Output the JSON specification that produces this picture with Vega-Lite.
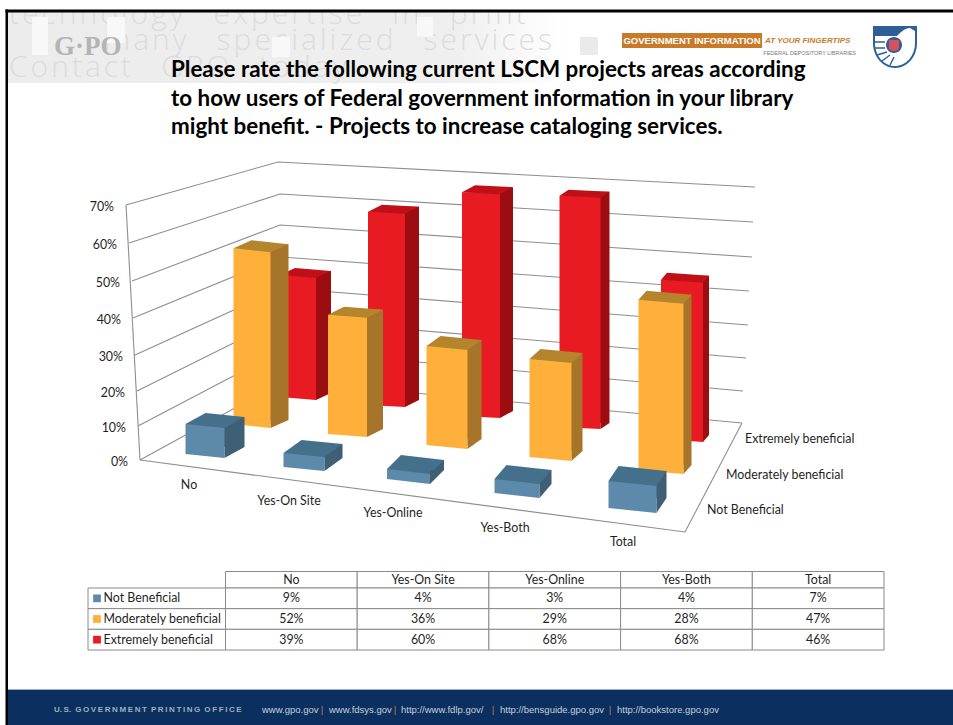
{"$schema":"https://vega.github.io/schema/vega-lite/v6.json","width":953,"height":725,"padding":0,"autosize":{"type":"none"},"background":"#ffffff","config":{"view":{"stroke":null},"font":"Lato"},
"datasets":{"rows":[
{"cat":"No","series":"Not Beneficial","value":0.09},{"cat":"Yes-On Site","series":"Not Beneficial","value":0.04},{"cat":"Yes-Online","series":"Not Beneficial","value":0.03},{"cat":"Yes-Both","series":"Not Beneficial","value":0.04},{"cat":"Total","series":"Not Beneficial","value":0.07},
{"cat":"No","series":"Moderately beneficial","value":0.52},{"cat":"Yes-On Site","series":"Moderately beneficial","value":0.36},{"cat":"Yes-Online","series":"Moderately beneficial","value":0.29},{"cat":"Yes-Both","series":"Moderately beneficial","value":0.28},{"cat":"Total","series":"Moderately beneficial","value":0.47},
{"cat":"No","series":"Extremely beneficial","value":0.39},{"cat":"Yes-On Site","series":"Extremely beneficial","value":0.60},{"cat":"Yes-Online","series":"Extremely beneficial","value":0.68},{"cat":"Yes-Both","series":"Extremely beneficial","value":0.68},{"cat":"Total","series":"Extremely beneficial","value":0.46}],
"walls":[
{"line":"g70","node":"left","tick":"70%","along":0.94,"rise":70.05},{"line":"g70","node":"corner","along":24.69,"rise":81.87},{"line":"g70","node":"right","along":99.22,"rise":75},
{"line":"g60","node":"left","tick":"60%","along":1.41,"rise":59.62},{"line":"g60","node":"corner","along":25,"rise":73.08},{"line":"g60","node":"right","along":98.91,"rise":65.38},
{"line":"g50","node":"left","tick":"50%","along":1.88,"rise":49.18},{"line":"g50","node":"corner","along":25,"rise":64.56},{"line":"g50","node":"right","along":98.75,"rise":55.77},
{"line":"g40","node":"left","tick":"40%","along":2.03,"rise":39.01},{"line":"g40","node":"corner","along":25.16,"rise":55.77},{"line":"g40","node":"right","along":98.28,"rise":46.43},
{"line":"g30","node":"left","tick":"30%","along":2.34,"rise":28.85},{"line":"g30","node":"corner","along":25.31,"rise":47.25},{"line":"g30","node":"right","along":98.13,"rise":37.09},
{"line":"g20","node":"left","tick":"20%","along":2.66,"rise":18.96},{"line":"g20","node":"corner","along":25.31,"rise":38.74},{"line":"g20","node":"right","along":97.81,"rise":28.02},
{"line":"g10","node":"left","tick":"10%","along":2.81,"rise":9.34},{"line":"g10","node":"corner","along":25.47,"rise":30.22},{"line":"g10","node":"right","along":97.34,"rise":18.96},
{"line":"g00","node":"left","tick":"0%","along":3.13,"rise":0},{"line":"g00","node":"corner","along":25.63,"rise":21.7},{"line":"g00","node":"right","along":97.19,"rise":10.16},
{"line":"floor","node":"a","along":3.13,"rise":0},{"line":"floor","node":"b","along":88.28,"rise":-19.78},{"line":"floor","node":"c","along":97.19,"rise":10.16},
{"line":"axis","node":"a","along":0.94,"rise":70.05},{"line":"axis","node":"b","along":3.13,"rise":0}],
"heading":[{"line":1,"text":"Please rate the following current LSCM projects areas according"},{"line":2,"text":"to how users of Federal government information in your library"},{"line":3,"text":"might benefit. - Projects to increase cataloging services."}],
"one":[{"k":1}]},
"data":{"name":"rows"},
"resolve":{"scale":{"x":"independent","y":"independent","color":"independent"}},
"layer":[
{"data":{"name":"one"},"mark":{"type":"rect","fill":{"gradient":"linear","x1":0,"x2":1,"y1":0,"y2":0,"stops":[{"offset":0,"color":"#ececec"},{"offset":0.8,"color":"#efefef"},{"offset":1,"color":"#ffffff"}]}},"encoding":{"x":{"value":8},"x2":{"value":565},"y":{"value":10},"y2":{"value":83}}},
{"data":{"name":"one"},"mark":{"type":"text","text":"t\u200ae\u200ac\u200ah\u200an\u200ao\u200al\u200ao\u200ag\u200ay\u2003e\u200ax\u200ap\u200ae\u200ar\u200at\u200ai\u200as\u200ae\u2003i\u200an\u2003p\u200ar\u200ai\u200an\u200at","align":"left","baseline":"middle","fontSize":30,"font":"Open Sans","fontWeight":300,"color":"#dcdcdc"},"encoding":{"x":{"value":9},"y":{"value":15}}},
{"data":{"name":"one"},"mark":{"type":"text","text":"m\u200aa\u200an\u200ay\u2003s\u200ap\u200ae\u200ac\u200ai\u200aa\u200al\u200ai\u200az\u200ae\u200ad\u2003s\u200ae\u200ar\u200av\u200ai\u200ac\u200ae\u200as","align":"right","baseline":"middle","fontSize":30,"font":"Open Sans","fontWeight":300,"color":"#dcdcdc"},"encoding":{"x":{"value":552},"y":{"value":41}}},
{"data":{"name":"one"},"mark":{"type":"text","text":"C\u200ao\u200an\u200at\u200aa\u200ac\u200at\u2003G\u200aP\u200aO\u2003t\u200ao\u200ad\u200aa\u200ay","align":"left","baseline":"middle","fontSize":30,"font":"Open Sans","fontWeight":300,"color":"#dcdcdc"},"encoding":{"x":{"value":9},"y":{"value":68}}},
{"data":{"name":"one"},"mark":{"type":"rect","fill":"#f8f8f8"},"encoding":{"x":{"value":32},"x2":{"value":48},"y":{"value":17},"y2":{"value":55}}},
{"data":{"name":"one"},"mark":{"type":"rect","fill":"#f8f8f8"},"encoding":{"x":{"value":107},"x2":{"value":125},"y":{"value":17},"y2":{"value":43}}},
{"data":{"name":"one"},"mark":{"type":"rect","fill":"#f8f8f8"},"encoding":{"x":{"value":272},"x2":{"value":290},"y":{"value":37},"y2":{"value":57}}},
{"data":{"name":"one"},"mark":{"type":"rect","fill":"#f8f8f8"},"encoding":{"x":{"value":417},"x2":{"value":433},"y":{"value":17},"y2":{"value":37}}},
{"data":{"name":"one"},"mark":{"type":"rect","fill":"#eaeaea"},"encoding":{"x":{"value":580},"x2":{"value":598},"y":{"value":37},"y2":{"value":55}}},
{"data":{"name":"one"},"mark":{"type":"rect","fill":"#ffffff"},"encoding":{"x":{"value":0},"x2":{"value":953},"y":{"value":0},"y2":{"value":10}}},
{"data":{"name":"one"},"mark":{"type":"rect","fill":"#000000"},"encoding":{"x":{"value":5.5},"x2":{"value":953},"y":{"value":9.5},"y2":{"value":12.5}}},
{"data":{"name":"one"},"mark":{"type":"rect","fill":"#000000"},"encoding":{"x":{"value":5.5},"x2":{"value":8},"y":{"value":9.5},"y2":{"value":725}}},
{"data":{"name":"one"},"mark":{"type":"text","text":"G·PO","align":"left","baseline":"middle","font":"Liberation Serif","fontWeight":"bold","fontSize":27,"color":"#b4b4b4"},"encoding":{"x":{"value":54},"y":{"value":47}}},
{"data":{"name":"one"},"mark":{"type":"rect","fill":"#c87a28"},"encoding":{"x":{"value":622},"x2":{"value":762},"y":{"value":33},"y2":{"value":48}}},
{"data":{"name":"one"},"mark":{"type":"text","text":"GOVERNMENT INFORMATION","align":"center","baseline":"middle","fontWeight":"bold","fontSize":9.5,"font":"Liberation Sans","color":"#ffffff"},"encoding":{"x":{"value":692},"y":{"value":41}}},
{"data":{"name":"one"},"mark":{"type":"text","text":"AT YOUR FINGERTIPS","align":"left","baseline":"middle","fontWeight":"bold","fontStyle":"italic","fontSize":8,"font":"Liberation Sans","color":"#c87a28"},"encoding":{"x":{"value":765},"y":{"value":41}}},
{"data":{"name":"one"},"mark":{"type":"text","text":"FEDERAL DEPOSITORY LIBRARIES","align":"right","baseline":"middle","fontSize":5.5,"font":"Liberation Sans","color":"#777777"},"encoding":{"x":{"value":856},"y":{"value":53}}},
{"data":{"name":"one"},"mark":{"type":"point","filled":true,"opacity":1,"size":4,"color":"#2f5f96","shape":"M-22 -21L22 -21L22 -4C22 10 12 21 0 21C-12 21 -22 10 -22 -4Z"},"encoding":{"x":{"value":895},"y":{"value":47}}},
{"data":{"name":"one"},"mark":{"type":"point","filled":true,"opacity":1,"size":4,"color":"#ffffff","shape":"M-20 -11L2 -11C6 -15 10 -19 15 -19L20 -16L20 -4C20 9 11 19 0 19C-11 19 -20 9 -20 -4Z"},"encoding":{"x":{"value":895},"y":{"value":47}}},
{"data":{"name":"one"},"mark":{"type":"point","filled":false,"opacity":1,"size":4,"color":"#2f5f96","strokeWidth":1.4,"shape":"M-20 -5L-10 -5M-20 1L-10 1M-18 8L-8 5M-13 14L-5 8M-5 18L-1 10"},"encoding":{"x":{"value":895},"y":{"value":47}}},
{"data":{"name":"one"},"mark":{"type":"point","filled":true,"opacity":1,"size":4,"color":"#2f5f96","shape":"M-8 0A8 8 0 1 1 8 0A8 8 0 1 1 -8 0Z"},"encoding":{"x":{"value":894},"y":{"value":45}}},
{"data":{"name":"one"},"mark":{"type":"point","filled":true,"opacity":1,"size":4,"color":"#d8505a","shape":"M-5 -5L5 -5L5 3C5 5 2 6 0 6C-2 6 -5 5 -5 3Z"},"encoding":{"x":{"value":894},"y":{"value":45}}},
{"data":{"name":"heading"},"mark":{"type":"text","align":"left","baseline":"middle","fontWeight":"bold","fontSize":22.4,"color":"#000000"},"encoding":{"text":{"field":"text"},"x":{"value":171},"y":{"field":"line","type":"ordinal","axis":null,"scale":{"type":"point","padding":0,"domain":[1,2,3],"range":[70,127]}}}},

{"data":{"name":"walls"},"mark":{"type":"line","color":"#8e8e8e","strokeWidth":1.1},"encoding":{"detail":{"field":"line"},"order":{"field":"along","type":"quantitative"},"x":{"field":"along","type":"quantitative","axis":null,"scale":{"domain":[0,100],"range":[120,760]}},"y":{"field":"rise","type":"quantitative","axis":null,"scale":{"domain":[0,100],"range":[460,96]}}}},
{"data":{"name":"walls"},"transform":[{"filter":"datum.node==='left'"}],"mark":{"type":"text","align":"right","baseline":"middle","dx":-12,"dy":2,"fontSize":12.4,"color":"#1f1f1f"},"encoding":{"text":{"field":"tick"},"x":{"field":"along","type":"quantitative","axis":null,"scale":{"domain":[0,100],"range":[120,760]}},"y":{"field":"rise","type":"quantitative","axis":null,"scale":{"domain":[0,100],"range":[460,96]}}}},

{"transform":[{"filter":"datum.series==='Extremely beneficial'&&datum.cat==='No'"}],"encoding":{"x":{"field":"cat","type":"nominal","axis":null,"scale":{"type":"band","domain":["No"],"range":[280,316],"paddingInner":0,"paddingOuter":0}},"y":{"field":"value","type":"quantitative","axis":null,"scale":{"domain":[0,1],"range":[397,84]}}},"layer":[
{"mark":{"type":"bar","color":"#9c0d12","xOffset":15,"yOffset":-4}},{"mark":{"type":"bar","color":"#e81b23"}},{"mark":{"type":"point","filled":true,"opacity":1,"size":4,"color":"#bf0f17","shape":"M-18 0L18 3L33 -4L-3 -7Z"}},
{"mark":{"type":"point","filled":true,"opacity":1,"size":4,"color":"#9c0d12","shape":"M18 -4L33 -4L18 3Z"},"encoding":{"y":{"datum":0,"type":"quantitative","axis":null,"scale":{"domain":[0,1],"range":[397,84]}}}},
{"mark":{"type":"point","filled":true,"opacity":1,"size":4,"color":"#e81b23","shape":"M-18 0L18 0L18 3Z"},"encoding":{"y":{"datum":0,"type":"quantitative","axis":null,"scale":{"domain":[0,1],"range":[397,84]}}}}]},
{"transform":[{"filter":"datum.series==='Extremely beneficial'&&datum.cat==='Yes-On Site'"}],"encoding":{"x":{"field":"cat","type":"nominal","axis":null,"scale":{"type":"band","domain":["Yes-On Site"],"range":[368,405],"paddingInner":0,"paddingOuter":0}},"y":{"field":"value","type":"quantitative","axis":null,"scale":{"domain":[0,1],"range":[405,83]}}},"layer":[
{"mark":{"type":"bar","color":"#9c0d12","xOffset":14,"yOffset":-5}},{"mark":{"type":"bar","color":"#e81b23"}},{"mark":{"type":"point","filled":true,"opacity":1,"size":4,"color":"#bf0f17","shape":"M-18.5 0L18.5 2L32.5 -5L-4.5 -7Z"}},
{"mark":{"type":"point","filled":true,"opacity":1,"size":4,"color":"#9c0d12","shape":"M18.5 -5L32.5 -5L18.5 2Z"},"encoding":{"y":{"datum":0,"type":"quantitative","axis":null,"scale":{"domain":[0,1],"range":[405,83]}}}},
{"mark":{"type":"point","filled":true,"opacity":1,"size":4,"color":"#e81b23","shape":"M-18.5 0L18.5 0L18.5 2Z"},"encoding":{"y":{"datum":0,"type":"quantitative","axis":null,"scale":{"domain":[0,1],"range":[405,83]}}}}]},
{"transform":[{"filter":"datum.series==='Extremely beneficial'&&datum.cat==='Yes-Online'"}],"encoding":{"x":{"field":"cat","type":"nominal","axis":null,"scale":{"type":"band","domain":["Yes-Online"],"range":[462,500],"paddingInner":0,"paddingOuter":0}},"y":{"field":"value","type":"quantitative","axis":null,"scale":{"domain":[0,1],"range":[416,87]}}},"layer":[
{"mark":{"type":"bar","color":"#9c0d12","xOffset":13,"yOffset":-5}},{"mark":{"type":"bar","color":"#e81b23"}},{"mark":{"type":"point","filled":true,"opacity":1,"size":4,"color":"#bf0f17","shape":"M-19 0L19 2L32 -5L-6 -7Z"}},
{"mark":{"type":"point","filled":true,"opacity":1,"size":4,"color":"#9c0d12","shape":"M19 -5L32 -5L19 2Z"},"encoding":{"y":{"datum":0,"type":"quantitative","axis":null,"scale":{"domain":[0,1],"range":[416,87]}}}},
{"mark":{"type":"point","filled":true,"opacity":1,"size":4,"color":"#e81b23","shape":"M-19 0L19 0L19 2Z"},"encoding":{"y":{"datum":0,"type":"quantitative","axis":null,"scale":{"domain":[0,1],"range":[416,87]}}}}]},
{"transform":[{"filter":"datum.series==='Extremely beneficial'&&datum.cat==='Yes-Both'"}],"encoding":{"x":{"field":"cat","type":"nominal","axis":null,"scale":{"type":"band","domain":["Yes-Both"],"range":[559.5,600.5],"paddingInner":0,"paddingOuter":0}},"y":{"field":"value","type":"quantitative","axis":null,"scale":{"domain":[0,1],"range":[427,87]}}},"layer":[
{"mark":{"type":"bar","color":"#9c0d12","xOffset":9,"yOffset":-4}},{"mark":{"type":"bar","color":"#e81b23"}},{"mark":{"type":"point","filled":true,"opacity":1,"size":4,"color":"#bf0f17","shape":"M-20.5 0L20.5 2L29.5 -4L-11.5 -6Z"}},
{"mark":{"type":"point","filled":true,"opacity":1,"size":4,"color":"#9c0d12","shape":"M20.5 -4L29.5 -4L20.5 2Z"},"encoding":{"y":{"datum":0,"type":"quantitative","axis":null,"scale":{"domain":[0,1],"range":[427,87]}}}},
{"mark":{"type":"point","filled":true,"opacity":1,"size":4,"color":"#e81b23","shape":"M-20.5 0L20.5 0L20.5 2Z"},"encoding":{"y":{"datum":0,"type":"quantitative","axis":null,"scale":{"domain":[0,1],"range":[427,87]}}}}]},
{"transform":[{"filter":"datum.series==='Extremely beneficial'&&datum.cat==='Total'"}],"encoding":{"x":{"field":"cat","type":"nominal","axis":null,"scale":{"type":"band","domain":["Total"],"range":[661,703],"paddingInner":0,"paddingOuter":0}},"y":{"field":"value","type":"quantitative","axis":null,"scale":{"domain":[0,1],"range":[439,93]}}},"layer":[
{"mark":{"type":"bar","color":"#9c0d12","xOffset":6,"yOffset":-4}},{"mark":{"type":"bar","color":"#e81b23"}},{"mark":{"type":"point","filled":true,"opacity":1,"size":4,"color":"#bf0f17","shape":"M-21 0L21 3L27 -4L-15 -7Z"}},
{"mark":{"type":"point","filled":true,"opacity":1,"size":4,"color":"#9c0d12","shape":"M21 -4L27 -4L21 3Z"},"encoding":{"y":{"datum":0,"type":"quantitative","axis":null,"scale":{"domain":[0,1],"range":[439,93]}}}},
{"mark":{"type":"point","filled":true,"opacity":1,"size":4,"color":"#e81b23","shape":"M-21 0L21 0L21 3Z"},"encoding":{"y":{"datum":0,"type":"quantitative","axis":null,"scale":{"domain":[0,1],"range":[439,93]}}}}]},

{"transform":[{"filter":"datum.series==='Moderately beneficial'&&datum.cat==='No'"}],"encoding":{"x":{"field":"cat","type":"nominal","axis":null,"scale":{"type":"band","domain":["No"],"range":[233.5,270.5],"paddingInner":0,"paddingOuter":0}},"y":{"field":"value","type":"quantitative","axis":null,"scale":{"domain":[0,1],"range":[424,86]}}},"layer":[
{"mark":{"type":"bar","color":"#a6752a","xOffset":18,"yOffset":-4}},{"mark":{"type":"bar","color":"#ffb03b"}},{"mark":{"type":"point","filled":true,"opacity":1,"size":4,"color":"#b5852d","shape":"M-18.5 0L18.5 4L36.5 -4L-.5 -8Z"}},
{"mark":{"type":"point","filled":true,"opacity":1,"size":4,"color":"#a6752a","shape":"M18.5 -4L36.5 -4L18.5 4Z"},"encoding":{"y":{"datum":0,"type":"quantitative","axis":null,"scale":{"domain":[0,1],"range":[424,86]}}}},
{"mark":{"type":"point","filled":true,"opacity":1,"size":4,"color":"#ffb03b","shape":"M-18.5 0L18.5 0L18.5 4Z"},"encoding":{"y":{"datum":0,"type":"quantitative","axis":null,"scale":{"domain":[0,1],"range":[424,86]}}}}]},
{"transform":[{"filter":"datum.series==='Moderately beneficial'&&datum.cat==='Yes-On Site'"}],"encoding":{"x":{"field":"cat","type":"nominal","axis":null,"scale":{"type":"band","domain":["Yes-On Site"],"range":[328,367],"paddingInner":0,"paddingOuter":0}},"y":{"field":"value","type":"quantitative","axis":null,"scale":{"domain":[0,1],"range":[434,103]}}},"layer":[
{"mark":{"type":"bar","color":"#a6752a","xOffset":16,"yOffset":-5}},{"mark":{"type":"bar","color":"#ffb03b"}},{"mark":{"type":"point","filled":true,"opacity":1,"size":4,"color":"#b5852d","shape":"M-19.5 0L19.5 3L35.5 -5L-3.5 -8Z"}},
{"mark":{"type":"point","filled":true,"opacity":1,"size":4,"color":"#a6752a","shape":"M19.5 -5L35.5 -5L19.5 3Z"},"encoding":{"y":{"datum":0,"type":"quantitative","axis":null,"scale":{"domain":[0,1],"range":[434,103]}}}},
{"mark":{"type":"point","filled":true,"opacity":1,"size":4,"color":"#ffb03b","shape":"M-19.5 0L19.5 0L19.5 3Z"},"encoding":{"y":{"datum":0,"type":"quantitative","axis":null,"scale":{"domain":[0,1],"range":[434,103]}}}}]},
{"transform":[{"filter":"datum.series==='Moderately beneficial'&&datum.cat==='Yes-Online'"}],"encoding":{"x":{"field":"cat","type":"nominal","axis":null,"scale":{"type":"band","domain":["Yes-Online"],"range":[426.5,467.5],"paddingInner":0,"paddingOuter":0}},"y":{"field":"value","type":"quantitative","axis":null,"scale":{"domain":[0,1],"range":[445,104]}}},"layer":[
{"mark":{"type":"bar","color":"#a6752a","xOffset":14,"yOffset":-6}},{"mark":{"type":"bar","color":"#ffb03b"}},{"mark":{"type":"point","filled":true,"opacity":1,"size":4,"color":"#b5852d","shape":"M-20.5 0L20.5 4L34.5 -6L-6.5 -10Z"}},
{"mark":{"type":"point","filled":true,"opacity":1,"size":4,"color":"#a6752a","shape":"M20.5 -6L34.5 -6L20.5 4Z"},"encoding":{"y":{"datum":0,"type":"quantitative","axis":null,"scale":{"domain":[0,1],"range":[445,104]}}}},
{"mark":{"type":"point","filled":true,"opacity":1,"size":4,"color":"#ffb03b","shape":"M-20.5 0L20.5 0L20.5 4Z"},"encoding":{"y":{"datum":0,"type":"quantitative","axis":null,"scale":{"domain":[0,1],"range":[445,104]}}}}]},
{"transform":[{"filter":"datum.series==='Moderately beneficial'&&datum.cat==='Yes-Both'"}],"encoding":{"x":{"field":"cat","type":"nominal","axis":null,"scale":{"type":"band","domain":["Yes-Both"],"range":[529.5,571.5],"paddingInner":0,"paddingOuter":0}},"y":{"field":"value","type":"quantitative","axis":null,"scale":{"domain":[0,1],"range":[457,107]}}},"layer":[
{"mark":{"type":"bar","color":"#a6752a","xOffset":11,"yOffset":-6}},{"mark":{"type":"bar","color":"#ffb03b"}},{"mark":{"type":"point","filled":true,"opacity":1,"size":4,"color":"#b5852d","shape":"M-21 0L21 4L32 -6L-10 -10Z"}},
{"mark":{"type":"point","filled":true,"opacity":1,"size":4,"color":"#a6752a","shape":"M21 -6L32 -6L21 4Z"},"encoding":{"y":{"datum":0,"type":"quantitative","axis":null,"scale":{"domain":[0,1],"range":[457,107]}}}},
{"mark":{"type":"point","filled":true,"opacity":1,"size":4,"color":"#ffb03b","shape":"M-21 0L21 0L21 4Z"},"encoding":{"y":{"datum":0,"type":"quantitative","axis":null,"scale":{"domain":[0,1],"range":[457,107]}}}}]},
{"transform":[{"filter":"datum.series==='Moderately beneficial'&&datum.cat==='Total'"}],"encoding":{"x":{"field":"cat","type":"nominal","axis":null,"scale":{"type":"band","domain":["Total"],"range":[638.5,683.5],"paddingInner":0,"paddingOuter":0}},"y":{"field":"value","type":"quantitative","axis":null,"scale":{"domain":[0,1],"range":[470,108]}}},"layer":[
{"mark":{"type":"bar","color":"#a6752a","xOffset":8,"yOffset":-5}},{"mark":{"type":"bar","color":"#ffb03b"}},{"mark":{"type":"point","filled":true,"opacity":1,"size":4,"color":"#b5852d","shape":"M-22.5 0L22.5 4L30.5 -5L-14.5 -9Z"}},
{"mark":{"type":"point","filled":true,"opacity":1,"size":4,"color":"#a6752a","shape":"M22.5 -5L30.5 -5L22.5 4Z"},"encoding":{"y":{"datum":0,"type":"quantitative","axis":null,"scale":{"domain":[0,1],"range":[470,108]}}}},
{"mark":{"type":"point","filled":true,"opacity":1,"size":4,"color":"#ffb03b","shape":"M-22.5 0L22.5 0L22.5 4Z"},"encoding":{"y":{"datum":0,"type":"quantitative","axis":null,"scale":{"domain":[0,1],"range":[470,108]}}}}]},

{"transform":[{"filter":"datum.series==='Not Beneficial'&&datum.cat==='No'"}],"encoding":{"x":{"field":"cat","type":"nominal","axis":null,"scale":{"type":"band","domain":["No"],"range":[185.5,224.5],"paddingInner":0,"paddingOuter":0}},"y":{"field":"value","type":"quantitative","axis":null,"scale":{"domain":[0,1],"range":[454,121]}}},"layer":[
{"mark":{"type":"bar","color":"#3f5f75","xOffset":20,"yOffset":-7}},{"mark":{"type":"bar","color":"#5d8aaa"}},{"mark":{"type":"point","filled":true,"opacity":1,"size":4,"color":"#45708c","shape":"M-19.5 0L19.5 4L39.5 -7L.5 -11Z"}},
{"mark":{"type":"point","filled":true,"opacity":1,"size":4,"color":"#3f5f75","shape":"M19.5 -7L39.5 -7L19.5 4Z"},"encoding":{"y":{"datum":0,"type":"quantitative","axis":null,"scale":{"domain":[0,1],"range":[454,121]}}}},
{"mark":{"type":"point","filled":true,"opacity":1,"size":4,"color":"#5d8aaa","shape":"M-19.5 0L19.5 0L19.5 4Z"},"encoding":{"y":{"datum":0,"type":"quantitative","axis":null,"scale":{"domain":[0,1],"range":[454,121]}}}}]},
{"transform":[{"filter":"datum.series==='Not Beneficial'&&datum.cat==='Yes-On Site'"}],"encoding":{"x":{"field":"cat","type":"nominal","axis":null,"scale":{"type":"band","domain":["Yes-On Site"],"range":[283.5,324.5],"paddingInner":0,"paddingOuter":0}},"y":{"field":"value","type":"quantitative","axis":null,"scale":{"domain":[0,1],"range":[467,117]}}},"layer":[
{"mark":{"type":"bar","color":"#3f5f75","xOffset":18,"yOffset":-9}},{"mark":{"type":"bar","color":"#5d8aaa"}},{"mark":{"type":"point","filled":true,"opacity":1,"size":4,"color":"#45708c","shape":"M-20.5 0L20.5 4L38.5 -9L-2.5 -13Z"}},
{"mark":{"type":"point","filled":true,"opacity":1,"size":4,"color":"#3f5f75","shape":"M20.5 -9L38.5 -9L20.5 4Z"},"encoding":{"y":{"datum":0,"type":"quantitative","axis":null,"scale":{"domain":[0,1],"range":[467,117]}}}},
{"mark":{"type":"point","filled":true,"opacity":1,"size":4,"color":"#5d8aaa","shape":"M-20.5 0L20.5 0L20.5 4Z"},"encoding":{"y":{"datum":0,"type":"quantitative","axis":null,"scale":{"domain":[0,1],"range":[467,117]}}}}]},
{"transform":[{"filter":"datum.series==='Not Beneficial'&&datum.cat==='Yes-Online'"}],"encoding":{"x":{"field":"cat","type":"nominal","axis":null,"scale":{"type":"band","domain":["Yes-Online"],"range":[387,430],"paddingInner":0,"paddingOuter":0}},"y":{"field":"value","type":"quantitative","axis":null,"scale":{"domain":[0,1],"range":[479,146]}}},"layer":[
{"mark":{"type":"bar","color":"#3f5f75","xOffset":14,"yOffset":-9}},{"mark":{"type":"bar","color":"#5d8aaa"}},{"mark":{"type":"point","filled":true,"opacity":1,"size":4,"color":"#45708c","shape":"M-21.5 0L21.5 5L35.5 -9L-7.5 -14Z"}},
{"mark":{"type":"point","filled":true,"opacity":1,"size":4,"color":"#3f5f75","shape":"M21.5 -9L35.5 -9L21.5 5Z"},"encoding":{"y":{"datum":0,"type":"quantitative","axis":null,"scale":{"domain":[0,1],"range":[479,146]}}}},
{"mark":{"type":"point","filled":true,"opacity":1,"size":4,"color":"#5d8aaa","shape":"M-21.5 0L21.5 0L21.5 5Z"},"encoding":{"y":{"datum":0,"type":"quantitative","axis":null,"scale":{"domain":[0,1],"range":[479,146]}}}}]},
{"transform":[{"filter":"datum.series==='Not Beneficial'&&datum.cat==='Yes-Both'"}],"encoding":{"x":{"field":"cat","type":"nominal","axis":null,"scale":{"type":"band","domain":["Yes-Both"],"range":[494.5,539.5],"paddingInner":0,"paddingOuter":0}},"y":{"field":"value","type":"quantitative","axis":null,"scale":{"domain":[0,1],"range":[493,143]}}},"layer":[
{"mark":{"type":"bar","color":"#3f5f75","xOffset":12,"yOffset":-9}},{"mark":{"type":"bar","color":"#5d8aaa"}},{"mark":{"type":"point","filled":true,"opacity":1,"size":4,"color":"#45708c","shape":"M-22.5 0L22.5 5L34.5 -9L-10.5 -14Z"}},
{"mark":{"type":"point","filled":true,"opacity":1,"size":4,"color":"#3f5f75","shape":"M22.5 -9L34.5 -9L22.5 5Z"},"encoding":{"y":{"datum":0,"type":"quantitative","axis":null,"scale":{"domain":[0,1],"range":[493,143]}}}},
{"mark":{"type":"point","filled":true,"opacity":1,"size":4,"color":"#5d8aaa","shape":"M-22.5 0L22.5 0L22.5 5Z"},"encoding":{"y":{"datum":0,"type":"quantitative","axis":null,"scale":{"domain":[0,1],"range":[493,143]}}}}]},
{"transform":[{"filter":"datum.series==='Not Beneficial'&&datum.cat==='Total'"}],"encoding":{"x":{"field":"cat","type":"nominal","axis":null,"scale":{"type":"band","domain":["Total"],"range":[608.5,656.5],"paddingInner":0,"paddingOuter":0}},"y":{"field":"value","type":"quantitative","axis":null,"scale":{"domain":[0,1],"range":[508,122]}}},"layer":[
{"mark":{"type":"bar","color":"#3f5f75","xOffset":10,"yOffset":-10}},{"mark":{"type":"bar","color":"#5d8aaa"}},{"mark":{"type":"point","filled":true,"opacity":1,"size":4,"color":"#45708c","shape":"M-24 0L24 5L34 -10L-14 -15Z"}},
{"mark":{"type":"point","filled":true,"opacity":1,"size":4,"color":"#3f5f75","shape":"M24 -10L34 -10L24 5Z"},"encoding":{"y":{"datum":0,"type":"quantitative","axis":null,"scale":{"domain":[0,1],"range":[508,122]}}}},
{"mark":{"type":"point","filled":true,"opacity":1,"size":4,"color":"#5d8aaa","shape":"M-24 0L24 0L24 5Z"},"encoding":{"y":{"datum":0,"type":"quantitative","axis":null,"scale":{"domain":[0,1],"range":[508,122]}}}}]},

{"transform":[{"filter":"datum.series==='Not Beneficial'&&datum.cat==='No'"}],"mark":{"type":"text","fontSize":12.4,"color":"#1f1f1f","baseline":"middle"},"encoding":{"text":{"field":"cat"},"x":{"field":"cat","type":"nominal","axis":null,"scale":{"type":"band","domain":["No"],"range":[179,199]}},"y":{"field":"cat","type":"nominal","axis":null,"scale":{"type":"band","domain":["No"],"range":[475,495]}}}},
{"transform":[{"filter":"datum.series==='Not Beneficial'&&datum.cat==='Yes-On Site'"}],"mark":{"type":"text","fontSize":12.4,"color":"#1f1f1f","baseline":"middle"},"encoding":{"text":{"field":"cat"},"x":{"field":"cat","type":"nominal","axis":null,"scale":{"type":"band","domain":["Yes-On Site"],"range":[279,299]}},"y":{"field":"cat","type":"nominal","axis":null,"scale":{"type":"band","domain":["Yes-On Site"],"range":[491,511]}}}},
{"transform":[{"filter":"datum.series==='Not Beneficial'&&datum.cat==='Yes-Online'"}],"mark":{"type":"text","fontSize":12.4,"color":"#1f1f1f","baseline":"middle"},"encoding":{"text":{"field":"cat"},"x":{"field":"cat","type":"nominal","axis":null,"scale":{"type":"band","domain":["Yes-Online"],"range":[383,403]}},"y":{"field":"cat","type":"nominal","axis":null,"scale":{"type":"band","domain":["Yes-Online"],"range":[503,523]}}}},
{"transform":[{"filter":"datum.series==='Not Beneficial'&&datum.cat==='Yes-Both'"}],"mark":{"type":"text","fontSize":12.4,"color":"#1f1f1f","baseline":"middle"},"encoding":{"text":{"field":"cat"},"x":{"field":"cat","type":"nominal","axis":null,"scale":{"type":"band","domain":["Yes-Both"],"range":[495,515]}},"y":{"field":"cat","type":"nominal","axis":null,"scale":{"type":"band","domain":["Yes-Both"],"range":[518,538]}}}},
{"transform":[{"filter":"datum.series==='Not Beneficial'&&datum.cat==='Total'"}],"mark":{"type":"text","fontSize":12.4,"color":"#1f1f1f","baseline":"middle"},"encoding":{"text":{"field":"cat"},"x":{"field":"cat","type":"nominal","axis":null,"scale":{"type":"band","domain":["Total"],"range":[613,633]}},"y":{"field":"cat","type":"nominal","axis":null,"scale":{"type":"band","domain":["Total"],"range":[532,552]}}}},
{"transform":[{"filter":"datum.cat==='No'"}],"mark":{"type":"text","fontSize":12.4,"align":"left","baseline":"middle","color":"#1f1f1f"},"encoding":{"text":{"field":"series"},"x":{"field":"series","type":"nominal","axis":null,"scale":{"type":"point","padding":0,"domain":["Not Beneficial","Moderately beneficial","Extremely beneficial"],"range":[707,745]}},"y":{"field":"series","type":"nominal","axis":null,"scale":{"type":"point","padding":0,"domain":["Not Beneficial","Moderately beneficial","Extremely beneficial"],"range":[510,439]}}}},

{"transform":[{"filter":"datum.series==='Not Beneficial'"}],"mark":{"type":"rect","fill":"#ffffff","stroke":"#8a8a8a","strokeWidth":1},"encoding":{"x":{"field":"cat","type":"nominal","axis":null,"scale":{"type":"band","domain":["No","Yes-On Site","Yes-Online","Yes-Both","Total"],"range":[225.5,884],"paddingInner":0,"paddingOuter":0}},"y":{"datum":"h","type":"nominal","axis":null,"scale":{"type":"band","domain":["h"],"range":[571.5,588],"paddingInner":0,"paddingOuter":0}}}},
{"transform":[{"filter":"datum.series==='Not Beneficial'"}],"mark":{"type":"text","fontSize":12.4,"color":"#1f1f1f","baseline":"middle"},"encoding":{"text":{"field":"cat"},"x":{"field":"cat","type":"nominal","axis":null,"scale":{"type":"band","domain":["No","Yes-On Site","Yes-Online","Yes-Both","Total"],"range":[225.5,884],"paddingInner":0,"paddingOuter":0}},"y":{"datum":"h","type":"nominal","axis":null,"scale":{"type":"band","domain":["h"],"range":[571.5,588],"paddingInner":0,"paddingOuter":0}}}},
{"mark":{"type":"rect","fill":"#ffffff","stroke":"#8a8a8a","strokeWidth":1},"encoding":{"x":{"field":"cat","type":"nominal","axis":null,"scale":{"type":"band","domain":["No","Yes-On Site","Yes-Online","Yes-Both","Total"],"range":[225.5,884],"paddingInner":0,"paddingOuter":0}},"y":{"field":"series","type":"nominal","axis":null,"scale":{"type":"band","domain":["Not Beneficial","Moderately beneficial","Extremely beneficial"],"range":[588,650],"paddingInner":0,"paddingOuter":0}}}},
{"mark":{"type":"text","fontSize":12.4,"color":"#1f1f1f","baseline":"middle"},"encoding":{"text":{"field":"value","type":"quantitative","format":".0%"},"x":{"field":"cat","type":"nominal","axis":null,"scale":{"type":"band","domain":["No","Yes-On Site","Yes-Online","Yes-Both","Total"],"range":[225.5,884],"paddingInner":0,"paddingOuter":0}},"y":{"field":"series","type":"nominal","axis":null,"scale":{"type":"band","domain":["Not Beneficial","Moderately beneficial","Extremely beneficial"],"range":[588,650],"paddingInner":0,"paddingOuter":0}}}},
{"transform":[{"filter":"datum.cat==='No'"}],"mark":{"type":"rect","fill":"#ffffff","stroke":"#8a8a8a","strokeWidth":1},"encoding":{"x":{"datum":"s","type":"nominal","axis":null,"scale":{"type":"band","domain":["s"],"range":[88,225.5],"paddingInner":0,"paddingOuter":0}},"y":{"field":"series","type":"nominal","axis":null,"scale":{"type":"band","domain":["Not Beneficial","Moderately beneficial","Extremely beneficial"],"range":[588,650],"paddingInner":0,"paddingOuter":0}}}},
{"transform":[{"filter":"datum.cat==='No'"}],"mark":{"type":"point","shape":"square","filled":true,"opacity":1,"size":60},"encoding":{"color":{"field":"series","type":"nominal","legend":null,"scale":{"domain":["Not Beneficial","Moderately beneficial","Extremely beneficial"],"range":["#5d8aaa","#ffb03b","#e81b23"]}},"x":{"value":97},"y":{"field":"series","type":"nominal","axis":null,"scale":{"type":"band","domain":["Not Beneficial","Moderately beneficial","Extremely beneficial"],"range":[588,650],"paddingInner":0,"paddingOuter":0}}}},
{"transform":[{"filter":"datum.cat==='No'"}],"mark":{"type":"text","fontSize":12.4,"align":"left","baseline":"middle","color":"#1f1f1f"},"encoding":{"text":{"field":"series"},"x":{"value":103.5},"y":{"field":"series","type":"nominal","axis":null,"scale":{"type":"band","domain":["Not Beneficial","Moderately beneficial","Extremely beneficial"],"range":[588,650],"paddingInner":0,"paddingOuter":0}}}},

{"data":{"name":"one"},"mark":{"type":"rect","fill":"#0b2f5e"},"encoding":{"x":{"value":8},"x2":{"value":953},"y":{"value":690},"y2":{"value":725}}},
{"data":{"name":"one"},"mark":{"type":"rect","fill":"#9fb2c6"},"encoding":{"x":{"value":8},"x2":{"value":953},"y":{"value":689},"y2":{"value":690}}},
{"data":{"name":"one"},"mark":{"type":"text","text":"U.\u2009S.\u2002G\u2009O\u2009V\u2009E\u2009R\u2009N\u2009M\u2009E\u2009N\u2009T\u2002P\u2009R\u2009I\u2009N\u2009T\u2009I\u2009N\u2009G\u2002O\u2009F\u2009F\u2009I\u2009C\u2009E","align":"left","baseline":"middle","fontSize":8,"fontWeight":"bold","font":"Liberation Sans","color":"#9fb0c4"},"encoding":{"x":{"value":54},"y":{"value":710}}},
{"data":{"name":"one"},"mark":{"type":"text","text":"www.gpo.gov","align":"left","baseline":"middle","fontSize":9.5,"font":"Liberation Sans","color":"#c4d0dc"},"encoding":{"x":{"value":262},"y":{"value":710}}},
{"data":{"name":"one"},"mark":{"type":"text","text":"www.fdsys.gov","align":"left","baseline":"middle","fontSize":9.5,"font":"Liberation Sans","color":"#c4d0dc"},"encoding":{"x":{"value":329},"y":{"value":710}}},
{"data":{"name":"one"},"mark":{"type":"text","text":"http://www.fdlp.gov/","align":"left","baseline":"middle","fontSize":9.5,"font":"Liberation Sans","color":"#c4d0dc"},"encoding":{"x":{"value":401},"y":{"value":710}}},
{"data":{"name":"one"},"mark":{"type":"text","text":"http://bensguide.gpo.gov","align":"left","baseline":"middle","fontSize":9.5,"font":"Liberation Sans","color":"#c4d0dc"},"encoding":{"x":{"value":500},"y":{"value":710}}},
{"data":{"name":"one"},"mark":{"type":"text","text":"http://bookstore.gpo.gov","align":"left","baseline":"middle","fontSize":9.5,"font":"Liberation Sans","color":"#c4d0dc"},"encoding":{"x":{"value":617},"y":{"value":710}}},
{"data":{"name":"one"},"mark":{"type":"text","text":"|","align":"center","baseline":"middle","fontSize":9.5,"font":"Liberation Sans","color":"#c07a50"},"encoding":{"x":{"value":322},"y":{"value":710}}},
{"data":{"name":"one"},"mark":{"type":"text","text":"|","align":"center","baseline":"middle","fontSize":9.5,"font":"Liberation Sans","color":"#c07a50"},"encoding":{"x":{"value":395},"y":{"value":710}}},
{"data":{"name":"one"},"mark":{"type":"text","text":"|","align":"center","baseline":"middle","fontSize":9.5,"font":"Liberation Sans","color":"#c07a50"},"encoding":{"x":{"value":493},"y":{"value":710}}},
{"data":{"name":"one"},"mark":{"type":"text","text":"|","align":"center","baseline":"middle","fontSize":9.5,"font":"Liberation Sans","color":"#c07a50"},"encoding":{"x":{"value":610},"y":{"value":710}}}
]}
